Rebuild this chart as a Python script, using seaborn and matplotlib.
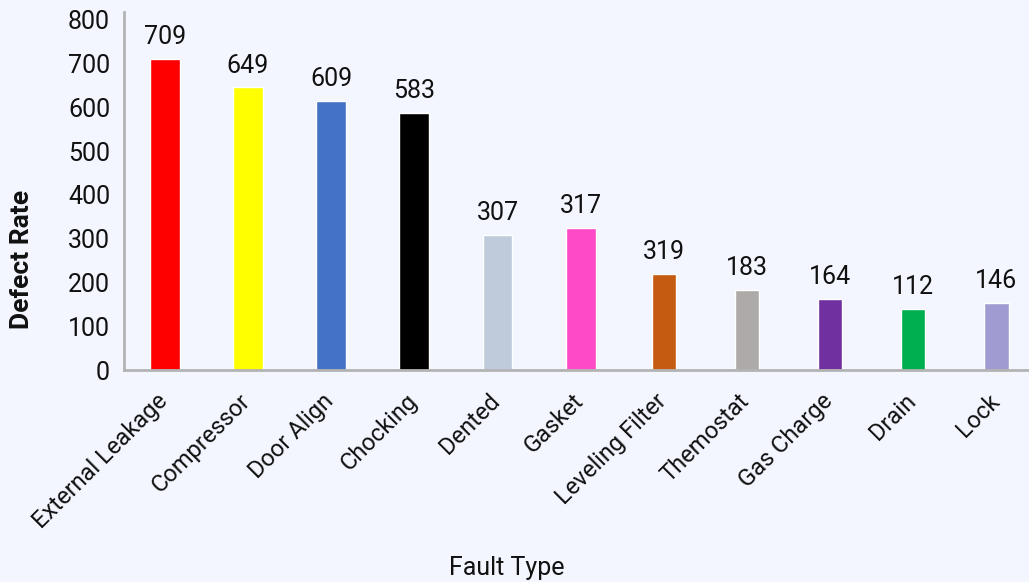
import matplotlib
matplotlib.use("Agg")
import matplotlib.pyplot as plt
import matplotlib.transforms as mtransforms
import seaborn as sns

# chart data
faults = ["External Leakage", "Compressor", "Door Align", "Chocking", "Dented", "Gasket",
          "Leveling Filter", "Themostat", "Gas Charge", "Drain", "Lock"]
bar_heights = [711, 646, 615, 587, 309, 325, 219, 183, 162, 139, 153]
bar_labels = ["709", "649", "609", "583", "307", "317", "319", "183", "164", "112", "146"]
colors = ["#FF0000", "#FFFF00", "#4472C4", "#000000", "#BFCBDA", "#FF4AC8",
          "#C55A11", "#AEAAAA", "#7030A0", "#00B050", "#A09CD2"]
yticks = [0, 100, 200, 300, 400, 500, 600, 700, 800]

bg = "#F3F6FE"
sns.set_style("white")
plt.rcParams["font.family"] = ["Roboto", "DejaVu Sans"]

fig = plt.figure(figsize=(10.29, 5.82), dpi=100, facecolor=bg)
ax = fig.add_axes([124 / 1029, 1 - 370 / 582, 1 - 124 / 1029, 358 / 582])
ax.set_facecolor(bg)

sns.barplot(x=faults, y=bar_heights, hue=faults, palette=colors, legend=False,
            width=0.36, saturation=1, ax=ax)

# narrower bars for the last five categories
for i, p in enumerate(ax.patches[:len(faults)]):
    if i >= 6:
        w = 0.29
        p.set_x(p.get_x() + (p.get_width() - w) / 2)
        p.set_width(w)

for i, (h, lab) in enumerate(zip(bar_heights, bar_labels)):
    ax.annotate(lab, (i, h), xytext=(0, 7), textcoords="offset points",
                ha="center", va="bottom", fontsize=18, color="#111111")

ax.set_xlim(-0.49, 10.39)
ax.set_ylim(0, 818)
ax.set_yticks(yticks)
ax.set_yticklabels([str(t) for t in yticks], fontsize=18, color="#111111")
ax.tick_params(axis="y", length=0, pad=10)
ax.tick_params(axis="x", length=0, pad=14)
shift = mtransforms.ScaledTranslation(-9 / 100, 0, fig.dpi_scale_trans)
for t in ax.get_xticklabels():
    t.set_rotation(45)
    t.set_ha("right")
    t.set_rotation_mode("anchor")
    t.set_fontsize(17)
    t.set_color("#111111")
    t.set_transform(t.get_transform() + shift)

for s in ["top", "right"]:
    ax.spines[s].set_visible(False)
for s in ["left", "bottom"]:
    ax.spines[s].set_color("#B3B3B3")
    ax.spines[s].set_linewidth(2)

ax.set_ylabel("")
ax.set_xlabel("")
fig.text(22 / 1029, 1 - 259 / 582, "Defect Rate", rotation=90, ha="center", va="center",
         fontsize=19, fontweight="bold", color="#111111")
fig.text(507 / 1029, 1 - 568 / 582, "Fault Type", ha="center", va="center",
         fontsize=18, color="#111111")

fig.savefig("out.png", dpi=100, facecolor=bg)
